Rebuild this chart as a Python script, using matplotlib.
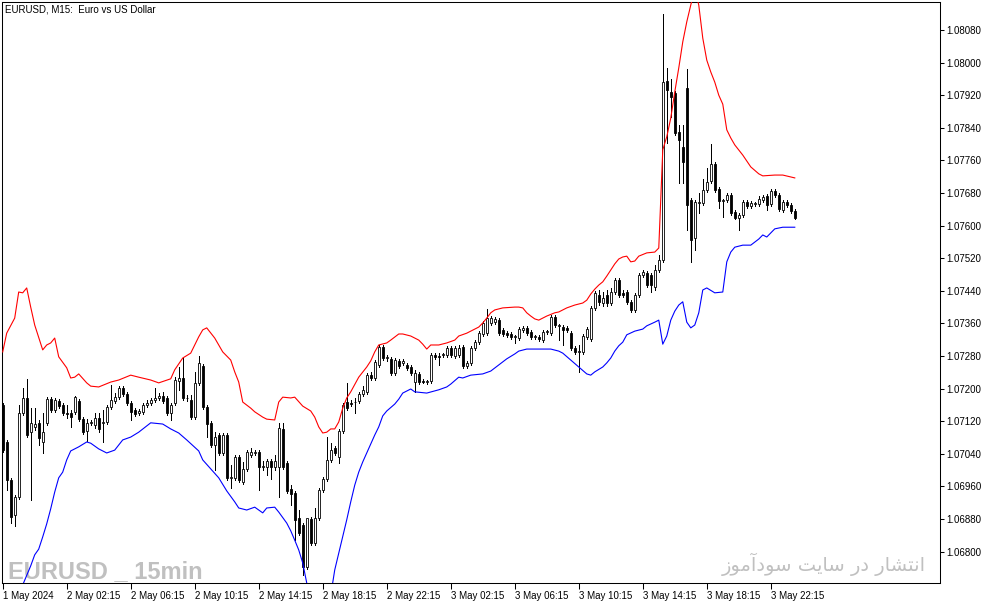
import matplotlib
matplotlib.use("Agg")
import matplotlib.pyplot as plt
import numpy as np

# EURUSD M15 candles, 1 May 22:15 .. 3 May 23:45 (199 bars)
opens = [1.07160, 1.07069, 1.06976, 1.06890, 1.06934, 1.07140, 1.07177, 1.07093, 1.07106, 1.07116,
         1.07069, 1.07116, 1.07174, 1.07147, 1.07170, 1.07160, 1.07140, 1.07140, 1.07143, 1.07170,
         1.07125, 1.07096, 1.07116, 1.07111, 1.07128, 1.07116, 1.07118, 1.07155, 1.07170, 1.07179,
         1.07201, 1.07187, 1.07165, 1.07147, 1.07140, 1.07143, 1.07160, 1.07165, 1.07172, 1.07177,
         1.07182, 1.07177, 1.07140, 1.07165, 1.07219, 1.07226, 1.07177, 1.07172, 1.07130, 1.07214,
         1.07255, 1.07155, 1.07116, 1.07062, 1.07086, 1.07042, 1.07086, 1.06981, 1.06981, 1.07032,
         1.06971, 1.07003, 1.07037, 1.07042, 1.07044, 1.07008, 1.07008, 1.07022, 1.07008, 1.07008,
         1.07101, 1.07017, 1.06954, 1.06944, 1.06882, 1.06865, 1.06762, 1.06880, 1.06821, 1.06882,
         1.06951, 1.06978, 1.07025, 1.07054, 1.07032, 1.07096, 1.07167, 1.07165, 1.07167, 1.07170,
         1.07187, 1.07192, 1.07233, 1.07226, 1.07258, 1.07302, 1.07275, 1.07273, 1.07238, 1.07268,
         1.07263, 1.07258, 1.07253, 1.07216, 1.07236, 1.07219, 1.07216, 1.07219, 1.07282, 1.07280,
         1.07282, 1.07282, 1.07300, 1.07280, 1.07282, 1.07302, 1.07255, 1.07263, 1.07300, 1.07314,
         1.07334, 1.07336, 1.07361, 1.07363, 1.07368, 1.07344, 1.07336, 1.07334, 1.07327, 1.07324,
         1.07344, 1.07349, 1.07339, 1.07327, 1.07327, 1.07319, 1.07339, 1.07336, 1.07376, 1.07354,
         1.07351, 1.07349, 1.07336, 1.07300, 1.07290, 1.07290, 1.07327, 1.07322, 1.07398, 1.07430,
         1.07410, 1.07430, 1.07410, 1.07437, 1.07467, 1.07435, 1.07437, 1.07413, 1.07393, 1.07430,
         1.07479, 1.07484, 1.07479, 1.07449, 1.07491, 1.07516, 1.07955, 1.07928, 1.07925, 1.07830,
         1.07793, 1.07938, 1.07663, 1.07570, 1.07655, 1.07655, 1.07687, 1.07709, 1.07751, 1.07690,
         1.07660, 1.07663, 1.07675, 1.07633, 1.07619, 1.07626, 1.07658, 1.07648, 1.07653, 1.07653,
         1.07663, 1.07673, 1.07653, 1.07685, 1.07675, 1.07638, 1.07658, 1.07651, 1.07636]
highs = [1.07165, 1.07074, 1.06981, 1.06939, 1.07160, 1.07201, 1.07224, 1.07152, 1.07152, 1.07123,
         1.07140, 1.07179, 1.07179, 1.07177, 1.07174, 1.07165, 1.07160, 1.07147, 1.07182, 1.07174,
         1.07130, 1.07125, 1.07123, 1.07140, 1.07140, 1.07147, 1.07160, 1.07209, 1.07189, 1.07206,
         1.07206, 1.07192, 1.07170, 1.07152, 1.07150, 1.07165, 1.07172, 1.07177, 1.07201, 1.07189,
         1.07192, 1.07182, 1.07165, 1.07228, 1.07253, 1.07275, 1.07184, 1.07184, 1.07241, 1.07280,
         1.07260, 1.07160, 1.07120, 1.07093, 1.07091, 1.07091, 1.07091, 1.07013, 1.07037, 1.07037,
         1.07020, 1.07049, 1.07054, 1.07049, 1.07049, 1.07022, 1.07027, 1.07027, 1.07037, 1.07116,
         1.07116, 1.07022, 1.06963, 1.06949, 1.06902, 1.06870, 1.06880, 1.06885, 1.06907, 1.06956,
         1.06983, 1.07081, 1.07066, 1.07059, 1.07101, 1.07165, 1.07214, 1.07172, 1.07177, 1.07192,
         1.07206, 1.07238, 1.07241, 1.07270, 1.07307, 1.07307, 1.07282, 1.07278, 1.07275, 1.07273,
         1.07273, 1.07263, 1.07258, 1.07246, 1.07241, 1.07224, 1.07221, 1.07287, 1.07287, 1.07287,
         1.07287, 1.07305, 1.07305, 1.07305, 1.07307, 1.07307, 1.07268, 1.07305, 1.07319, 1.07341,
         1.07366, 1.07395, 1.07378, 1.07376, 1.07373, 1.07349, 1.07341, 1.07339, 1.07332, 1.07351,
         1.07354, 1.07354, 1.07344, 1.07332, 1.07332, 1.07344, 1.07344, 1.07381, 1.07381, 1.07359,
         1.07356, 1.07354, 1.07341, 1.07305, 1.07307, 1.07334, 1.07351, 1.07403, 1.07439, 1.07442,
         1.07437, 1.07442, 1.07447, 1.07472, 1.07472, 1.07442, 1.07442, 1.07417, 1.07435, 1.07484,
         1.07491, 1.07489, 1.07484, 1.07503, 1.07528, 1.08119, 1.07987, 1.07960, 1.07930, 1.07847,
         1.07847, 1.07984, 1.07668, 1.07663, 1.07680, 1.07714, 1.07741, 1.07800, 1.07756, 1.07695,
         1.07665, 1.07680, 1.07680, 1.07638, 1.07631, 1.07663, 1.07663, 1.07660, 1.07658, 1.07673,
         1.07675, 1.07677, 1.07690, 1.07690, 1.07680, 1.07663, 1.07663, 1.07655, 1.07641]
lows = [1.07044, 1.06951, 1.06870, 1.06863, 1.06929, 1.07135, 1.07081, 1.06927, 1.07098, 1.07062,
        1.07042, 1.07111, 1.07143, 1.07143, 1.07152, 1.07135, 1.07128, 1.07106, 1.07138, 1.07120,
        1.07089, 1.07071, 1.07111, 1.07103, 1.07093, 1.07069, 1.07113, 1.07150, 1.07165, 1.07174,
        1.07182, 1.07160, 1.07123, 1.07133, 1.07135, 1.07138, 1.07155, 1.07160, 1.07167, 1.07172,
        1.07165, 1.07135, 1.07123, 1.07160, 1.07197, 1.07172, 1.07170, 1.07125, 1.07125, 1.07209,
        1.07150, 1.07081, 1.07057, 1.07000, 1.07037, 1.07037, 1.06976, 1.06956, 1.06976, 1.06971,
        1.06966, 1.06998, 1.07032, 1.07037, 1.06951, 1.07000, 1.06988, 1.06978, 1.07000, 1.06934,
        1.07003, 1.06944, 1.06914, 1.06828, 1.06841, 1.06743, 1.06757, 1.06816, 1.06816, 1.06878,
        1.06946, 1.06973, 1.07020, 1.07037, 1.07017, 1.07091, 1.07147, 1.07157, 1.07140, 1.07165,
        1.07182, 1.07187, 1.07221, 1.07221, 1.07253, 1.07270, 1.07268, 1.07233, 1.07233, 1.07251,
        1.07258, 1.07246, 1.07233, 1.07192, 1.07211, 1.07214, 1.07211, 1.07214, 1.07273, 1.07258,
        1.07278, 1.07278, 1.07278, 1.07275, 1.07278, 1.07251, 1.07251, 1.07258, 1.07295, 1.07309,
        1.07329, 1.07332, 1.07356, 1.07359, 1.07332, 1.07329, 1.07327, 1.07322, 1.07312, 1.07319,
        1.07339, 1.07332, 1.07322, 1.07322, 1.07317, 1.07314, 1.07334, 1.07332, 1.07351, 1.07319,
        1.07307, 1.07339, 1.07295, 1.07285, 1.07241, 1.07285, 1.07322, 1.07317, 1.07393, 1.07405,
        1.07403, 1.07403, 1.07405, 1.07432, 1.07425, 1.07425, 1.07407, 1.07388, 1.07388, 1.07425,
        1.07474, 1.07449, 1.07437, 1.07442, 1.07486, 1.07511, 1.07803, 1.07867, 1.07822, 1.07705,
        1.07705, 1.07589, 1.07511, 1.07540, 1.07631, 1.07651, 1.07682, 1.07705, 1.07682, 1.07643,
        1.07621, 1.07658, 1.07626, 1.07616, 1.07589, 1.07621, 1.07643, 1.07643, 1.07648, 1.07648,
        1.07658, 1.07638, 1.07648, 1.07670, 1.07636, 1.07633, 1.07646, 1.07631, 1.07616]
closes = [1.07049, 1.06976, 1.06885, 1.06934, 1.07140, 1.07177, 1.07086, 1.07116, 1.07113, 1.07079,
          1.07093, 1.07174, 1.07147, 1.07172, 1.07157, 1.07140, 1.07138, 1.07130, 1.07179, 1.07125,
          1.07093, 1.07116, 1.07118, 1.07128, 1.07101, 1.07118, 1.07155, 1.07172, 1.07179, 1.07201,
          1.07187, 1.07165, 1.07143, 1.07138, 1.07145, 1.07160, 1.07165, 1.07172, 1.07177, 1.07182,
          1.07170, 1.07140, 1.07160, 1.07221, 1.07226, 1.07177, 1.07177, 1.07130, 1.07214, 1.07263,
          1.07155, 1.07113, 1.07062, 1.07081, 1.07042, 1.07086, 1.06981, 1.06983, 1.07032, 1.06976,
          1.07003, 1.07044, 1.07044, 1.07044, 1.07008, 1.07010, 1.07022, 1.07008, 1.07022, 1.07103,
          1.07008, 1.06949, 1.06941, 1.06878, 1.06846, 1.06762, 1.06882, 1.06821, 1.06882, 1.06951,
          1.06978, 1.07025, 1.07049, 1.07042, 1.07096, 1.07160, 1.07152, 1.07162, 1.07167, 1.07187,
          1.07197, 1.07233, 1.07226, 1.07265, 1.07302, 1.07275, 1.07278, 1.07238, 1.07270, 1.07255,
          1.07268, 1.07251, 1.07238, 1.07238, 1.07216, 1.07216, 1.07219, 1.07282, 1.07278, 1.07278,
          1.07285, 1.07300, 1.07282, 1.07300, 1.07300, 1.07255, 1.07263, 1.07300, 1.07314, 1.07336,
          1.07361, 1.07373, 1.07373, 1.07371, 1.07336, 1.07334, 1.07332, 1.07327, 1.07329, 1.07346,
          1.07349, 1.07336, 1.07327, 1.07329, 1.07322, 1.07339, 1.07341, 1.07376, 1.07356, 1.07356,
          1.07344, 1.07344, 1.07300, 1.07290, 1.07292, 1.07329, 1.07346, 1.07398, 1.07435, 1.07413,
          1.07422, 1.07410, 1.07437, 1.07467, 1.07430, 1.07430, 1.07413, 1.07393, 1.07430, 1.07479,
          1.07486, 1.07454, 1.07454, 1.07491, 1.07516, 1.07952, 1.07933, 1.07916, 1.07827, 1.07810,
          1.07756, 1.07651, 1.07565, 1.07658, 1.07658, 1.07687, 1.07707, 1.07751, 1.07687, 1.07660,
          1.07663, 1.07675, 1.07631, 1.07619, 1.07626, 1.07658, 1.07648, 1.07655, 1.07655, 1.07665,
          1.07670, 1.07651, 1.07685, 1.07675, 1.07641, 1.07658, 1.07651, 1.07636, 1.07619]

# upper (red) and lower (blue) band, read at these bar numbers
upper_bars = [0, 1, 3, 4, 5, 6, 7, 8, 10, 11, 12, 13, 14, 16, 17, 18, 19, 21, 22, 24,
              27, 29, 32, 34, 37, 39, 42, 43, 45, 47, 49, 50, 51, 53, 55, 57, 58, 59, 60, 62,
              63, 65, 66, 68, 69, 70, 72, 73, 75, 77, 78, 79, 80, 81, 82, 83, 84, 85, 86, 87,
              89, 91, 92, 93, 94, 96, 97, 99, 100, 102, 104, 105, 106, 107, 109, 111, 113, 114, 116, 119,
              120, 121, 122, 123, 125, 128, 129, 130, 131, 132, 133, 134, 136, 138, 139, 141, 143, 145, 146, 147,
              148, 149, 150, 151, 152, 153, 154, 155, 156, 157, 158, 159, 161, 163, 164, 165, 166, 167, 168, 169,
              170, 171, 172, 173, 174, 175, 176, 177, 178, 179, 180, 181, 182, 183, 185, 187, 189, 190, 193, 195,
              198]
upper_vals = [1.07290, 1.07336, 1.07373, 1.07437, 1.07435, 1.07447, 1.07400, 1.07356, 1.07295, 1.07307,
              1.07312, 1.07324, 1.07278, 1.07251, 1.07226, 1.07228, 1.07236, 1.07214, 1.07206, 1.07204,
              1.07216, 1.07221, 1.07233, 1.07228, 1.07221, 1.07214, 1.07224, 1.07246, 1.07275, 1.07287,
              1.07327, 1.07344, 1.07349, 1.07324, 1.07290, 1.07270, 1.07241, 1.07216, 1.07167, 1.07152,
              1.07143, 1.07130, 1.07125, 1.07123, 1.07167, 1.07179, 1.07177, 1.07179, 1.07157, 1.07145,
              1.07130, 1.07106, 1.07091, 1.07093, 1.07101, 1.07101, 1.07118, 1.07152, 1.07177, 1.07192,
              1.07228, 1.07253, 1.07268, 1.07290, 1.07307, 1.07312, 1.07319, 1.07334, 1.07334, 1.07329,
              1.07319, 1.07309, 1.07297, 1.07307, 1.07307, 1.07312, 1.07319, 1.07329, 1.07336, 1.07351,
              1.07361, 1.07373, 1.07386, 1.07393, 1.07398, 1.07400, 1.07400, 1.07398, 1.07386, 1.07378,
              1.07371, 1.07368, 1.07378, 1.07386, 1.07388, 1.07398, 1.07405, 1.07410, 1.07417, 1.07432,
              1.07444, 1.07454, 1.07462, 1.07476, 1.07491, 1.07506, 1.07518, 1.07523, 1.07525, 1.07511,
              1.07513, 1.07525, 1.07533, 1.07535, 1.07545, 1.07786, 1.07818, 1.07864, 1.07928, 1.07987,
              1.08051, 1.08100, 1.08141, 1.08183, 1.08141, 1.08060, 1.08006, 1.07977, 1.07952, 1.07920,
              1.07898, 1.07835, 1.07815, 1.07798, 1.07773, 1.07744, 1.07727, 1.07722, 1.07724, 1.07724,
              1.07717]
lower_bars = [4, 5, 7, 8, 9, 10, 11, 12, 13, 14, 15, 16, 17, 19, 21, 22, 24, 26, 28, 30,
              32, 34, 37, 40, 42, 44, 46, 49, 50, 52, 54, 56, 58, 59, 61, 63, 65, 66, 68, 69,
              71, 72, 73, 74, 75, 76, 77, 79, 80, 81, 82, 83, 84, 85, 86, 87, 88, 89, 90, 91,
              93, 94, 95, 96, 98, 99, 100, 102, 103, 106, 109, 111, 112, 114, 115, 117, 120, 122, 124, 126,
              128, 129, 131, 137, 139, 140, 142, 144, 146, 147, 148, 150, 151, 152, 153, 154, 155, 156, 158, 160,
              161, 163, 164, 165, 166, 167, 168, 169, 170, 171, 172, 173, 174, 175, 176, 178, 180, 181, 182, 183,
              185, 187, 189, 190, 191, 193, 195, 198]
lower_vals = [1.06681, 1.06718, 1.06765, 1.06792, 1.06806, 1.06836, 1.06868, 1.06905, 1.06946, 1.06981,
              1.06995, 1.07025, 1.07047, 1.07057, 1.07069, 1.07066, 1.07052, 1.07042, 1.07049, 1.07074,
              1.07081, 1.07093, 1.07116, 1.07113, 1.07101, 1.07091, 1.07074, 1.07047, 1.07025, 1.07003,
              1.06981, 1.06949, 1.06922, 1.06907, 1.06902, 1.06909, 1.06895, 1.06907, 1.06909, 1.06897,
              1.06870, 1.06851, 1.06828, 1.06804, 1.06772, 1.06723, 1.06681, 1.06640, 1.06640, 1.06665,
              1.06693, 1.06755, 1.06796, 1.06836, 1.06878, 1.06922, 1.06963, 1.06995, 1.07020, 1.07042,
              1.07086, 1.07106, 1.07133, 1.07145, 1.07162, 1.07174, 1.07189, 1.07199, 1.07192, 1.07189,
              1.07197, 1.07204, 1.07211, 1.07228, 1.07226, 1.07233, 1.07236, 1.07243, 1.07258, 1.07273,
              1.07285, 1.07292, 1.07297, 1.07297, 1.07292, 1.07287, 1.07270, 1.07253, 1.07236, 1.07233,
              1.07241, 1.07253, 1.07263, 1.07275, 1.07292, 1.07305, 1.07314, 1.07332, 1.07341, 1.07346,
              1.07354, 1.07363, 1.07368, 1.07309, 1.07329, 1.07368, 1.07390, 1.07405, 1.07413, 1.07363,
              1.07349, 1.07356, 1.07386, 1.07442, 1.07447, 1.07435, 1.07437, 1.07511, 1.07535, 1.07547,
              1.07552, 1.07552, 1.07567, 1.07577, 1.07572, 1.07592, 1.07596, 1.07596]

time_labels = ['1 May 2024', '2 May 02:15', '2 May 06:15', '2 May 10:15', '2 May 14:15',
               '2 May 18:15', '2 May 22:15', '3 May 02:15', '3 May 06:15', '3 May 10:15',
               '3 May 14:15', '3 May 18:15', '3 May 22:15']
price_ticks = [1.06800, 1.06880, 1.06960, 1.07040, 1.07120, 1.07200, 1.07280, 1.07360, 1.07440,
               1.07520, 1.07600, 1.07680, 1.07760, 1.07840, 1.07920, 1.08000, 1.08080]

plt.rcParams['font.family'] = ['Liberation Sans', 'DejaVu Sans']

W, H = 994, 605
fig = plt.figure(figsize=(W / 100, H / 100), dpi=100)
ax = fig.add_axes([2 / W, (H - 583) / H, 938 / W, 581 / H])

x = np.arange(len(opens))
o = np.array(opens)
c = np.array(closes)
up = c >= o

ax.vlines(x, lows, highs, color='black', linewidth=0.72, antialiased=False, zorder=3)
ax.bar(x[up], (c - o)[up], bottom=o[up], width=0.6, facecolor='white',
       edgecolor='black', linewidth=0.6, zorder=4)
ax.bar(x[~up], (c - o)[~up], bottom=o[~up], width=0.6, facecolor='black',
       edgecolor='black', linewidth=0.6, zorder=4)

ax.plot(upper_bars, upper_vals, color='#ff0000', linewidth=0.8, zorder=5)
ax.plot(lower_bars, lower_vals, color='#0000ff', linewidth=0.8, zorder=5)

ax.set_xlim(-0.175, 234.3)
ax.set_ylim(1.067229, 1.081487)

ax.yaxis.tick_right()
ax.set_yticks(price_ticks)
ax.set_yticklabels(['%.5f' % p for p in price_ticks])
ax.set_xticks(np.arange(len(time_labels)) * 16)
ax.set_xticklabels(time_labels, ha='left')
ax.tick_params(axis='y', direction='out', length=3, width=0.75, pad=1.5, labelsize=7)
ax.tick_params(axis='x', direction='out', length=4, width=0.75, pad=1.5, labelsize=7)
for s in ax.spines.values():
    s.set_linewidth(0.75)

ax.text(3 / 938, 1 - 3 / 581, 'EURUSD, M15:  Euro vs US Dollar', transform=ax.transAxes,
        fontsize=7, va='top', ha='left')

# watermarks
ax.text(6 / 938, 5 / 581, 'EURUSD _ 15min', transform=ax.transAxes, fontsize=17,
        fontweight='bold', color='#c0c0c0', va='baseline', ha='left', zorder=1,
        family=['Liberation Sans', 'DejaVu Sans'])
# Persian text, pre-shaped (presentation forms, visual order) since matplotlib has no bidi
ax.text(924 / 938, 12 / 581,
        '\ufeaf\ufeee\ufee3\ufe81\ufea9\ufeee\ufeb3 \ufe96\ufef3\ufe8e\ufeb3 \ufead\ufea9 '
        '\ufead\ufe8e\ufeb8\ufe98\ufee7\ufe8d',
        transform=ax.transAxes, fontsize=14, color='#c0c0c0', va='baseline', ha='right',
        zorder=1, family=['DejaVu Sans'])

plt.savefig('out.png', dpi=100)
